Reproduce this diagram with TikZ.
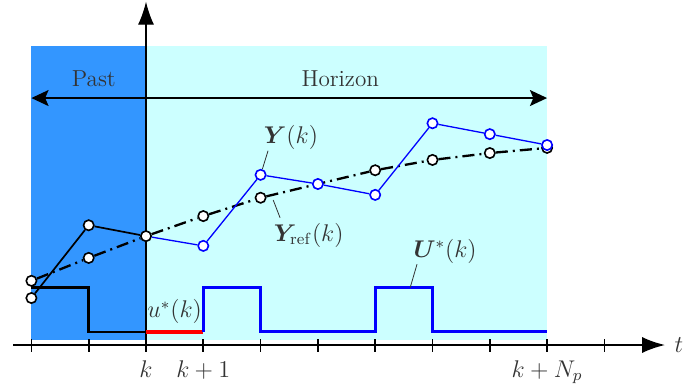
\documentclass[tikz,border=0pt]{standalone}
\usepackage{amsmath}
\usepackage{amssymb}
\usepackage{bm}
\usepackage{xcolor}
\usepackage{tikz}
\usetikzlibrary{arrows.meta,positioning,calc}

\definecolor{pastblue}{RGB}{51,150,255}
\definecolor{horizoncyan}{RGB}{204,255,255}

\begin{document}
\begin{tikzpicture}[
    x=1cm, y=1cm,
    lbl/.style={text=black!80, font=\fontsize{11.5}{14}\selectfont},
    outpt/.style={circle, draw=blue, fill=white, line width=0.8pt, inner sep=0pt, minimum size=0.18cm},
    refpt/.style={circle, draw=black, fill=white, line width=0.8pt, inner sep=0pt, minimum size=0.18cm},
    outline/.style={blue, line width=0.65pt},
    pastline/.style={black, line width=0.85pt},
    refline/.style={black, line width=1.15pt, dash pattern=on 6pt off 2.5pt on 1pt off 2.5pt},
    stepline/.style={line width=1.2pt},
    pinline/.style={black!80, line width=0.4pt},
    axis/.style={-{Latex[length=0.4cm, width=0.28cm]}},
    span/.style={{Stealth[length=0.3cm, width=0.28cm, inset=0.06cm]}-{Stealth[length=0.3cm, width=0.28cm, inset=0.06cm]}, line width=0.75pt}
]
    \useasboundingbox (-2.548,-0.785) rectangle (9.651,6.021);

    % past and horizon regions
    \fill[pastblue] (-2,0.08) rectangle (0,5.22);
    \fill[horizoncyan] (0,0.08) rectangle (7,5.22);

    % axes
    \draw[axis, line width=1pt] (-2.32,0) -- (9.06,0);
    \draw[axis, line width=0.6pt] (0,0) -- (0,5.99);
    \node[lbl, anchor=west] (tlabel) at (9.1,0) {$t$};
    \foreach \i in {-2,...,8}
        \draw[line width=0.8pt] (\i,-0.12) -- (\i,0.11);
    \node[lbl, anchor=base] (tk) at (0,-0.56) {$k$};
    \node[lbl, anchor=base] (tk1) at (1,-0.56) {$k+1$};
    \node[lbl, anchor=base] (tkn) at (7,-0.56) {$k+N_p$};

    % horizon arrow
    \coordinate (spanleft) at (-2,4.31);
    \coordinate (spanright) at (7,4.31);
    \draw[span] (spanleft) -- (spanright);
    \node[lbl] (past) at (-0.91,4.64) {Past};
    \node[lbl] (horizon) at (3.39,4.64) {Horizon};

    % input steps
    \draw[stepline] (-2,1.0) -- (-1,1.0) -- (-1,0.23) -- (0,0.23);
    \draw[stepline, red, line width=1.7pt] (0,0.23) -- (1,0.23);
    \draw[stepline, blue, line width=1.35pt] (1,0.23) -- (1,1.0) -- (2,1.0) -- (2,0.23) -- (4,0.23)
        -- (4,1.0) -- (5,1.0) -- (5,0.23) -- (7,0.23);
    \node[lbl] (ulabel) at (0.5,0.58) {$u^{*}(k)$};

    % reference trajectory
    \node[refpt] (refa) at (-2,1.12) {};
    \node[refpt] (refb) at (-1,1.52) {};
    \node[refpt] (now) at (0,1.90) {};
    \node[refpt] (ref1) at (1,2.25) {};
    \node[refpt] (ref2) at (2,2.57) {};
    \node[refpt] (ref4) at (4,3.05) {};
    \node[refpt] (ref5) at (5,3.23) {};
    \node[refpt] (ref6) at (6,3.35) {};
    \node[refpt] (ref7) at (7,3.44) {};
    \draw[refline] (refa) -- (refb) -- (now) -- (ref1) -- (ref2) -- (ref4) -- (ref5) -- (ref6) -- (ref7);

    % measured past output
    \node[refpt] (pasta) at (-2,0.82) {};
    \node[refpt] (pastb) at (-1,2.09) {};
    \draw[pastline] (pasta) -- (pastb) -- (now);

    % predicted output
    \node[outpt] (out1) at (1,1.73) {};
    \node[outpt] (out2) at (2,2.97) {};
    \node[outpt] (out3) at (3,2.81) {};
    \node[outpt] (out4) at (4,2.62) {};
    \node[outpt] (out5) at (5,3.87) {};
    \node[outpt] (out6) at (6,3.68) {};
    \node[outpt] (out7) at (7,3.49) {};
    \draw[outline] (now) -- (out1) -- (out2) -- (out3) -- (out4) -- (out5) -- (out6) -- (out7);

    % labels
    \node[lbl] (ylabel) at (2.53,3.62) {$\bm{Y}(k)$};
    \coordinate (ytip) at (2.13,3.39);
    \draw[pinline] (out2) -- (ytip);
    \node[lbl] (reflabel) at (2.84,1.92) {$\bm{Y}_{\mathrm{ref}}(k)$};
    \coordinate (refstart) at (2.22,2.53);
    \coordinate (reftip) at (2.34,2.22);
    \draw[pinline] (refstart) -- (reftip);
    \node[lbl] (Ulabel) at (5.22,1.64) {$\bm{U}^{*}(k)$};
    \coordinate (Ustart) at (4.61,1.0);
    \coordinate (Utip) at (4.73,1.41);
    \draw[pinline] (Ustart) -- (Utip);
\end{tikzpicture}
\end{document}
